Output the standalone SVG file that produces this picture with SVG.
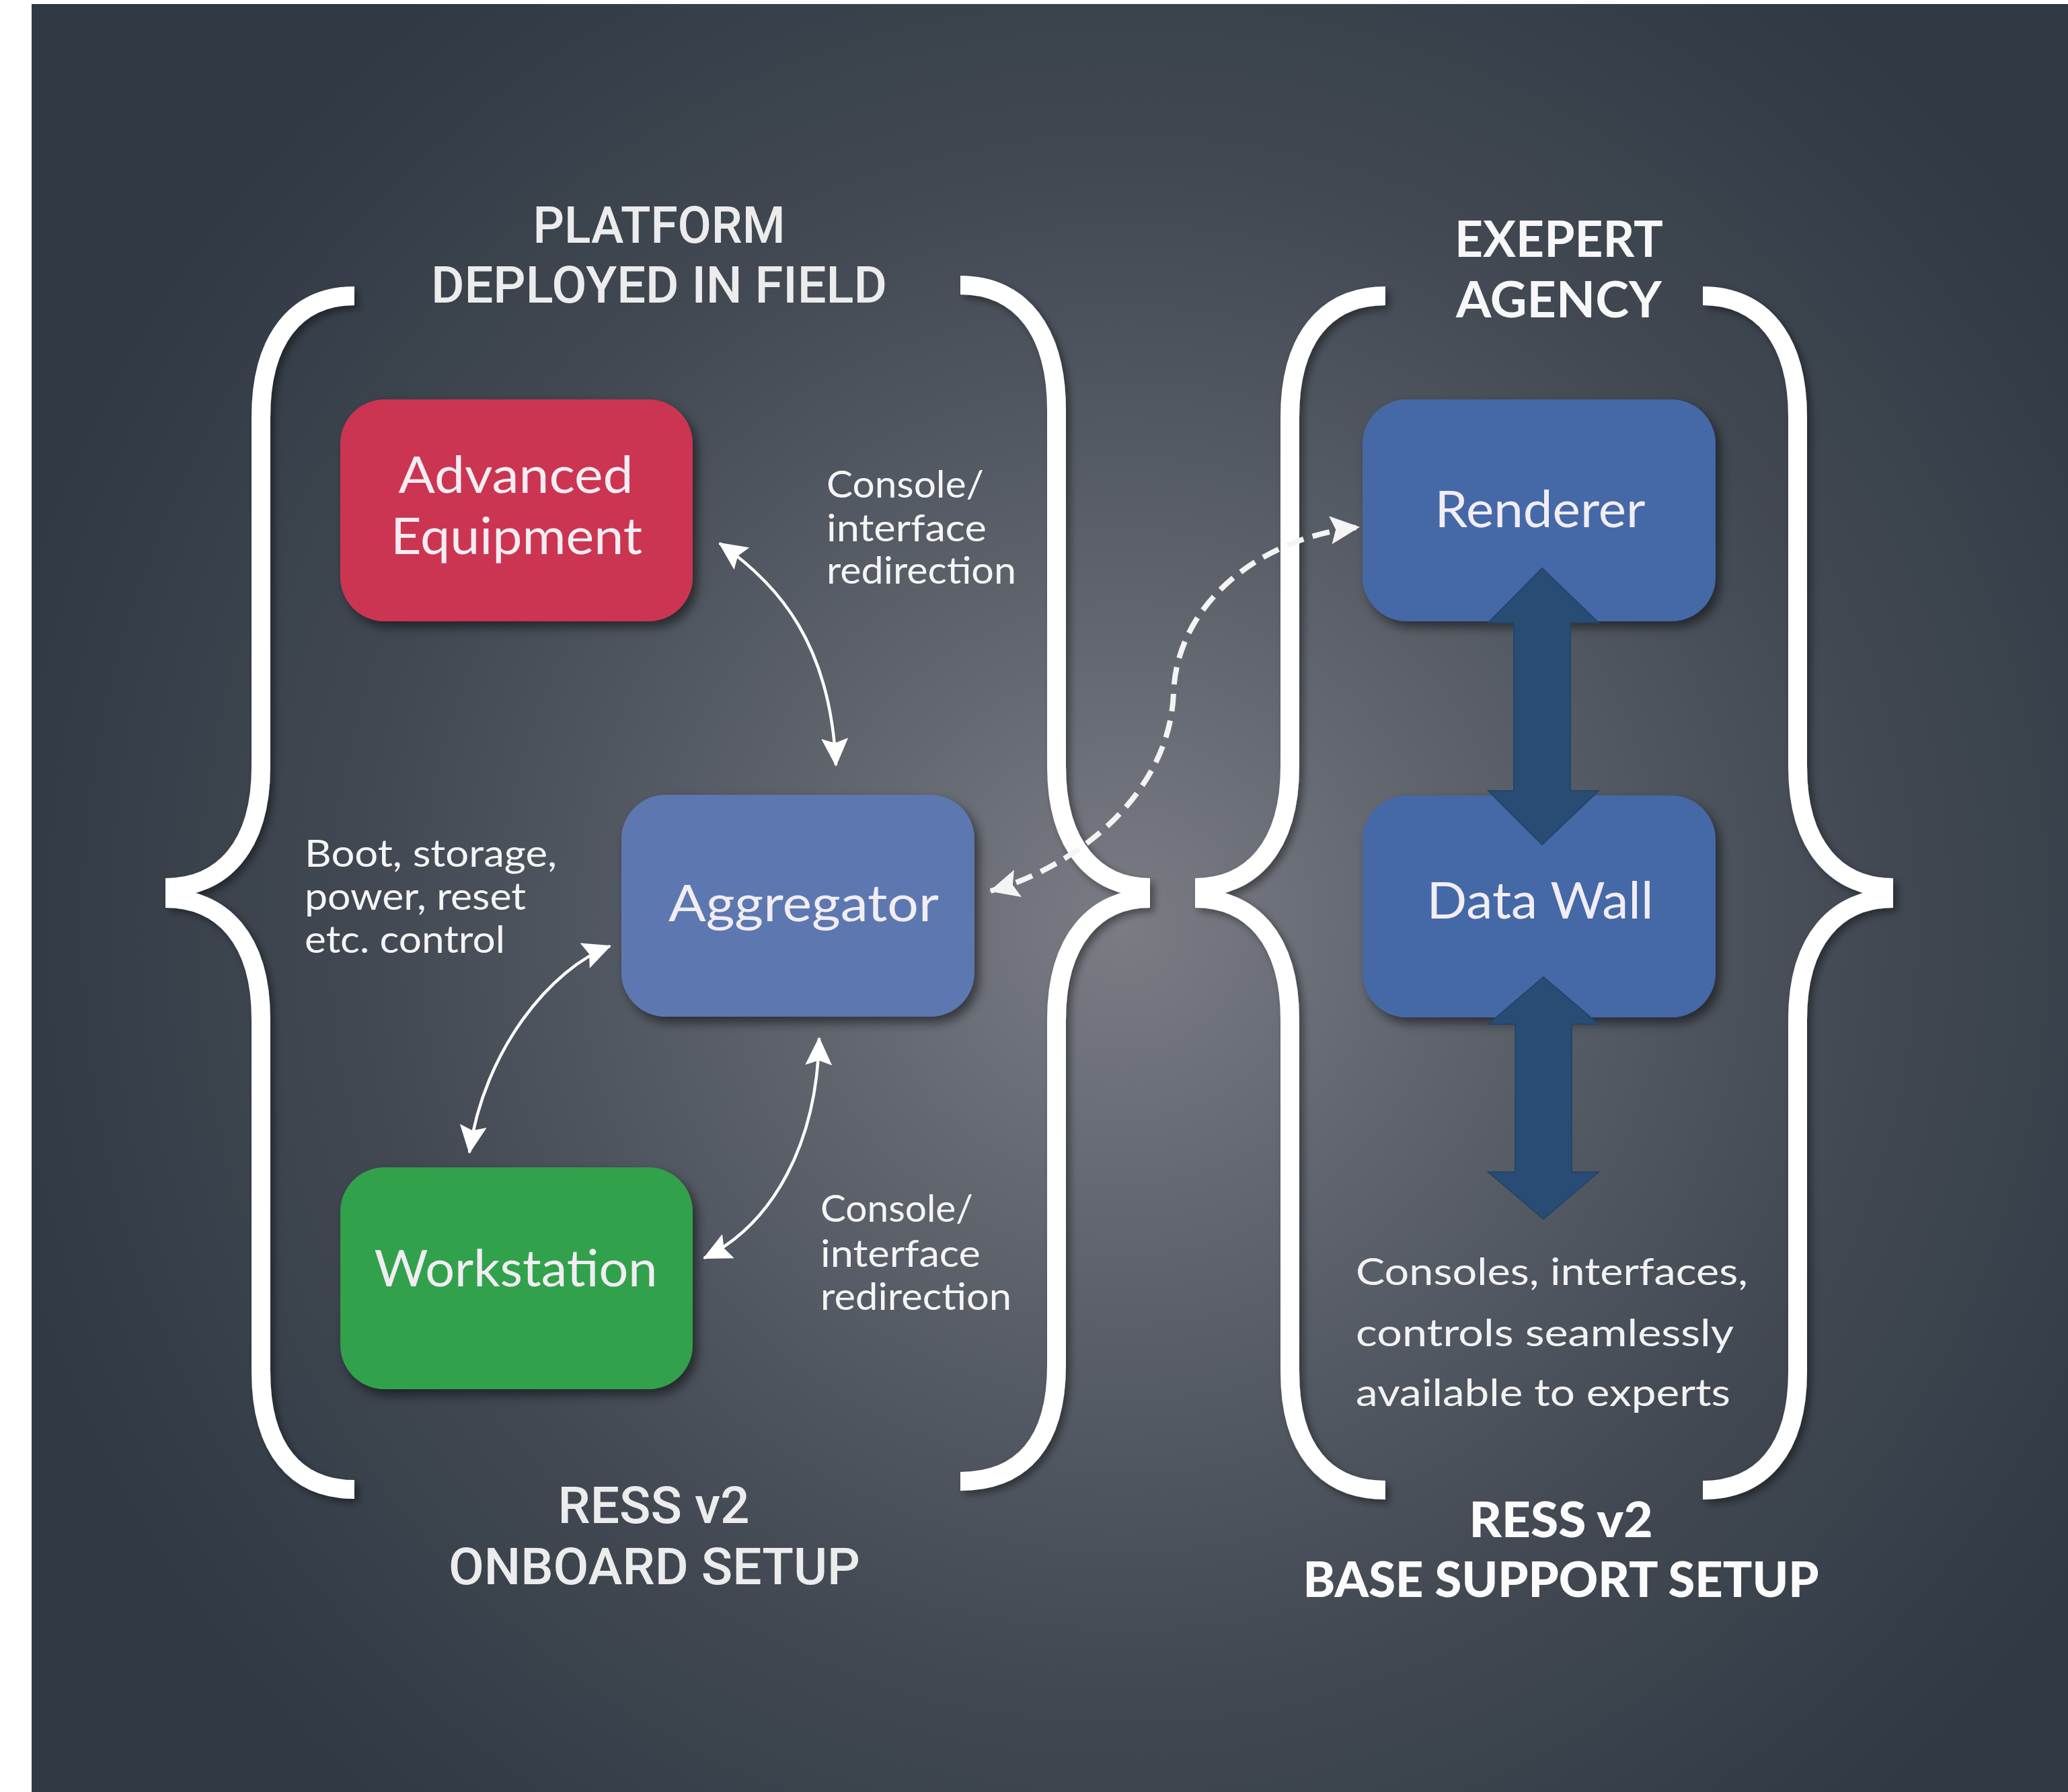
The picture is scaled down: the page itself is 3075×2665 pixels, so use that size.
<svg xmlns="http://www.w3.org/2000/svg" width="3075" height="2665" viewBox="0 0 3075 2665">
<defs>
<radialGradient id="bg" gradientUnits="userSpaceOnUse" cx="1670" cy="1380" r="1750">
<stop offset="0" stop-color="#7a7c84"/>
<stop offset="0.3" stop-color="#5d626b"/>
<stop offset="0.65" stop-color="#414852"/>
<stop offset="1" stop-color="#2f3943"/>
</radialGradient>
<filter id="sh" x="-20%" y="-20%" width="140%" height="140%">
<feDropShadow dx="7" dy="9" stdDeviation="8" flood-color="#000" flood-opacity="0.5"/>
</filter>
<filter id="bsh" x="-20%" y="-10%" width="140%" height="120%">
<feDropShadow dx="6" dy="6" stdDeviation="6" flood-color="#000" flood-opacity="0.4"/>
</filter>
<marker id="ah" viewBox="0 0 42 40" refX="40" refY="20" markerWidth="42" markerHeight="40" markerUnits="userSpaceOnUse" orient="auto-start-reverse">
<path d="M0,0 L42,20 L0,40 L7,20 z" fill="#ffffff"/>
</marker>
<marker id="ahd" viewBox="0 0 44 42" refX="42" refY="21" markerWidth="44" markerHeight="42" markerUnits="userSpaceOnUse" orient="auto-start-reverse">
<path d="M0,0 L44,21 L0,42 L8,21 z" fill="#f4f4f4"/>
</marker>
</defs>
<style>
.brace{fill:none;stroke:#ffffff;stroke-width:28;stroke-linecap:butt;stroke-linejoin:round}
.box{stroke:none}
.lbl{font-family:Lato,"Open Sans",sans-serif;font-size:76px;fill:#f1edf3;text-anchor:middle}
.sm{font-family:Lato,"Open Sans",sans-serif;font-size:56px;fill:#f5f5f5}
.rt{font-family:Lato,"Open Sans",sans-serif;font-size:56px;fill:#f2f2f2}
.hl{font-family:Roboto,"Liberation Sans",sans-serif;font-weight:500;font-size:76px;fill:#ececec;text-anchor:middle}
.hr{font-family:Lato,"Liberation Sans",sans-serif;font-weight:700;font-size:74px;fill:#f7f7f7;text-anchor:middle}
.hb{font-family:Lato,"Liberation Sans",sans-serif;font-weight:900;font-size:72px;fill:#fbfbfb;text-anchor:middle}
.con{fill:none;stroke:#ffffff;stroke-width:4.5;marker-start:url(#ah);marker-end:url(#ah)}
.dash{fill:none;stroke:#f4f4f4;stroke-width:8;stroke-dasharray:26 14;marker-start:url(#ahd);marker-end:url(#ahd)}
.big{fill:#294c74;stroke:#24456b;stroke-width:2}
</style>
<rect x="0" y="0" width="3075" height="2665" fill="#ffffff"/>
<rect x="47" y="6" width="3028" height="2659" fill="url(#bg)"/>

<g id="braces" filter="url(#bsh)">
<path class="brace" d="M527,440 C440,440 388,505 388,620 L388,1140 C388,1260 330,1320 246,1320 M246,1336 C330,1336 388,1396 388,1516 L388,2040 C388,2155 440,2215 527,2215"/>
<path class="brace" d="M1428,424 C1520,424 1571,495 1571,610 L1571,1140 C1571,1260 1630,1320 1710,1320 M1710,1336 C1630,1336 1571,1396 1571,1516 L1571,2030 C1571,2145 1520,2203 1428,2203"/>
<path class="brace" d="M2060,440 C1970,440 1918,505 1918,620 L1918,1140 C1918,1260 1860,1320 1777,1320 M1777,1336 C1860,1336 1918,1396 1918,1516 L1918,2040 C1918,2155 1970,2216 2060,2216"/>
<path class="brace" d="M2532,440 C2620,440 2673,505 2673,620 L2673,1140 C2673,1260 2732,1320 2815,1320 M2815,1336 C2732,1336 2673,1396 2673,1516 L2673,2040 C2673,2155 2620,2216 2532,2216"/>
</g>

<g id="headers">
<text class="hl" x="980" y="361" textLength="375" lengthAdjust="spacingAndGlyphs">PLATFORM</text>
<text class="hl" x="980" y="450" textLength="678" lengthAdjust="spacingAndGlyphs">DEPLOYED IN FIELD</text>
<text class="hr" x="2318" y="382" textLength="310" lengthAdjust="spacingAndGlyphs">EXEPERT</text>
<text class="hr" x="2318" y="472" textLength="306" lengthAdjust="spacingAndGlyphs">AGENCY</text>
<text class="hl" x="972" y="2265" textLength="285" lengthAdjust="spacingAndGlyphs">RESS v2</text>
<text class="hl" x="973" y="2356" textLength="612" lengthAdjust="spacingAndGlyphs">ONBOARD SETUP</text>
<text class="hb" x="2321" y="2286" textLength="273" lengthAdjust="spacingAndGlyphs">RESS v2</text>
<text class="hb" x="2321" y="2375" textLength="767" lengthAdjust="spacingAndGlyphs">BASE SUPPORT SETUP</text>
</g>

<g id="node-advanced-equipment">
<rect class="box" x="506" y="594" width="524" height="330" rx="66" fill="#cc3451" filter="url(#sh)"/>
<text class="lbl" x="767" y="733" textLength="349" lengthAdjust="spacingAndGlyphs">Advanced</text>
<text class="lbl" x="768" y="824" textLength="374" lengthAdjust="spacingAndGlyphs">Equipment</text>
</g>
<g id="node-aggregator">
<rect class="box" x="924" y="1182" width="525" height="330" rx="66" fill="#5d77b0" filter="url(#sh)"/>
<text class="lbl" x="1195" y="1370" textLength="402" lengthAdjust="spacingAndGlyphs">Aggregator</text>
</g>
<g id="node-workstation">
<rect class="box" x="506" y="1736" width="524" height="330" rx="66" fill="#31a14b" filter="url(#sh)"/>
<text class="lbl" x="767" y="1913" textLength="421" lengthAdjust="spacingAndGlyphs">Workstation</text>
</g>
<g id="node-renderer">
<rect class="box" x="2026" y="594" width="525" height="330" rx="66" fill="#4567a7" filter="url(#sh)"/>
<text class="lbl" x="2290" y="784" textLength="313" lengthAdjust="spacingAndGlyphs">Renderer</text>
</g>
<g id="node-data-wall">
<rect class="box" x="2026" y="1183" width="525" height="330" rx="66" fill="#4567a7" filter="url(#sh)"/>
<text class="lbl" x="2290" y="1366" textLength="337" lengthAdjust="spacingAndGlyphs">Data Wall</text>
</g>

<g id="connectors">
<path class="con" d="M1070,808 C1160,870 1235,960 1243,1138"/>
<path class="con" d="M907,1407 C820,1440 720,1560 698,1714"/>
<path class="con" d="M1218,1544 C1215,1700 1150,1820 1047,1871"/>
<path class="dash" d="M1473,1325 C1600,1290 1740,1180 1745,1030 C1750,900 1870,800 2020,784"/>
<path class="big" d="M2293,845 L2377,926 L2335,926 L2335,1176 L2377,1176 L2293,1256 L2213,1176 L2251,1176 L2251,926 L2213,926 Z"/>
<path class="big" d="M2295,1453 L2377,1523 L2337,1523 L2337,1743 L2377,1743 L2295,1813 L2213,1743 L2253,1743 L2253,1523 L2213,1523 Z"/>
</g>

<g id="labels">
<text class="sm" x="1229" y="740" textLength="234" lengthAdjust="spacingAndGlyphs">Console/</text>
<text class="sm" x="1229" y="805" textLength="238" lengthAdjust="spacingAndGlyphs">interface</text>
<text class="sm" x="1229" y="868" textLength="282" lengthAdjust="spacingAndGlyphs">redirection</text>
<text class="sm" x="1220" y="1817" textLength="227" lengthAdjust="spacingAndGlyphs">Console/</text>
<text class="sm" x="1220" y="1884" textLength="238" lengthAdjust="spacingAndGlyphs">interface</text>
<text class="sm" x="1220" y="1948" textLength="284" lengthAdjust="spacingAndGlyphs">redirection</text>
<text class="sm" x="453" y="1289" textLength="375" lengthAdjust="spacingAndGlyphs">Boot, storage,</text>
<text class="sm" x="453" y="1353" textLength="329" lengthAdjust="spacingAndGlyphs">power, reset</text>
<text class="sm" x="453" y="1417" textLength="298" lengthAdjust="spacingAndGlyphs">etc. control</text>
<text class="rt" x="2016" y="1911" textLength="583" lengthAdjust="spacingAndGlyphs">Consoles, interfaces,</text>
<text class="rt" x="2016" y="2002" textLength="562" lengthAdjust="spacingAndGlyphs">controls seamlessly</text>
<text class="rt" x="2016" y="2091" textLength="557" lengthAdjust="spacingAndGlyphs">available to experts</text>
</g>
</svg>
